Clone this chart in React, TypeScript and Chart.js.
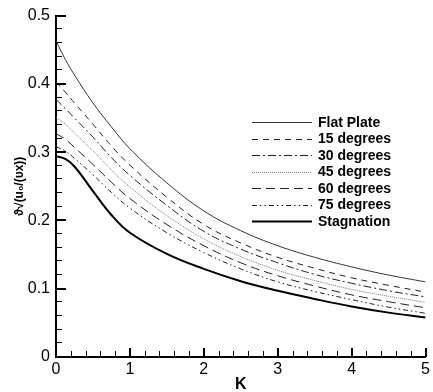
import React, { useEffect, useRef } from "react";
import { Chart, registerables } from "chart.js";

Chart.register(...registerables);

const kValues = [0, 0.125, 0.25, 0.5, 0.75, 1, 1.5, 2, 2.5, 3, 3.5, 4, 4.5, 5];
const flatPlate = [0.463, 0.436, 0.413, 0.372, 0.337, 0.305, 0.255, 0.214, 0.185, 0.163, 0.146, 0.132, 0.12, 0.11];
const deg15 = [0.403, 0.388, 0.372, 0.341, 0.309, 0.281, 0.234, 0.194, 0.167, 0.146, 0.13, 0.116, 0.105, 0.095];
const deg30 = [0.377, 0.364, 0.35, 0.322, 0.292, 0.266, 0.222, 0.184, 0.158, 0.138, 0.121, 0.108, 0.097, 0.088];
const deg45 = [0.351, 0.341, 0.328, 0.302, 0.274, 0.249, 0.207, 0.173, 0.147, 0.127, 0.112, 0.099, 0.089, 0.08];
const deg60 = [0.327, 0.319, 0.307, 0.282, 0.256, 0.232, 0.194, 0.163, 0.138, 0.119, 0.104, 0.091, 0.081, 0.072];
const deg75 = [0.308, 0.302, 0.291, 0.267, 0.241, 0.218, 0.182, 0.153, 0.129, 0.11, 0.096, 0.084, 0.073, 0.064];
const stagnation = [0.294, 0.29, 0.279, 0.243, 0.208, 0.182, 0.151, 0.129, 0.111, 0.097, 0.085, 0.074, 0.065, 0.058];

const seriesLabels = ["Flat Plate", "15 degrees", "30 degrees", "45 degrees", "60 degrees", "75 degrees", "Stagnation"];
const seriesValues = [flatPlate, deg15, deg30, deg45, deg60, deg75, stagnation];
const seriesStyles = [
  { color: "#333333", width: 1, dash: [] as number[] },
  { color: "#222222", width: 1, dash: [6, 5] },
  { color: "#222222", width: 1, dash: [8, 3, 2, 3] },
  { color: "#777777", width: 1, dash: [1, 1] },
  { color: "#222222", width: 1, dash: [9, 5] },
  { color: "#222222", width: 1, dash: [5, 3, 1.5, 3, 1.5, 3] },
  { color: "#000000", width: 2, dash: [] as number[] },
];

const yMinorStep = 0.02;
const xMinorStep = 0.2;

const xTitle = "K";
const yTitle = "ϑ√(u₀/(υx))";
const FONT = "'Liberation Sans', Arial, sans-serif";

function drawInsideTicks(chart: any) {
  const ctx = chart.ctx;
  const xs = chart.scales.x;
  const ys = chart.scales.y;
  const area = chart.chartArea;
  ctx.save();
  ctx.setLineDash([]);
  ctx.fillStyle = "#000000";
  for (let i = 0; i <= 25; i++) {
    const major = i % 5 === 0;
    const py = Math.round(ys.getPixelForValue(i * yMinorStep));
    if (major) ctx.fillRect(area.left, py - 1, 10, 2);
    else ctx.fillRect(area.left, py - 1, 6, 1);
  }
  for (let i = 0; i <= 25; i++) {
    const major = i % 5 === 0;
    const px = Math.round(xs.getPixelForValue(i * xMinorStep));
    if (major) ctx.fillRect(px - 1, area.bottom - 9, 2, 9);
    else ctx.fillRect(px, area.bottom - 6, 1, 6);
  }
  ctx.restore();
}

function drawLegend(chart: any) {
  const ctx = chart.ctx;
  ctx.save();
  chart.data.datasets.forEach((ds: any, i: number) => {
    const y = 122 + i * 16.5;
    ctx.strokeStyle = ds.borderColor;
    ctx.lineWidth = ds.borderWidth;
    ctx.setLineDash(ds.borderDash || []);
    ctx.beginPath();
    ctx.moveTo(252, Math.round(y) + 0.5);
    ctx.lineTo(312, Math.round(y) + 0.5);
    ctx.stroke();
    ctx.setLineDash([]);
    ctx.fillStyle = "#000";
    ctx.font = `bold 14px ${FONT}`;
    ctx.textBaseline = "middle";
    ctx.textAlign = "left";
    ctx.fillText(ds.label, 318, y + 1);
  });
  ctx.restore();
}

const overlay = {
  id: "overlayTicksLegend",
  afterDraw(chart: any) {
    drawLegend(chart);
    try {
      drawInsideTicks(chart);
    } catch (e: any) {
      const ctx = chart.ctx;
      ctx.save();
      ctx.fillStyle = "red";
      ctx.font = "10px sans-serif";
      ctx.fillText(String(e && e.message), 80, 60);
      ctx.restore();
    }
  },
};

export default function App() {
  const ref = useRef<HTMLCanvasElement | null>(null);
  useEffect(() => {
    if (!ref.current) return;
    const chart = new Chart(ref.current, {
      type: "line",
      data: {
        datasets: seriesLabels.map((label, i) => ({
          label,
          data: kValues.map((k, j) => ({ x: k, y: seriesValues[i][j] })),
          borderColor: seriesStyles[i].color,
          borderWidth: seriesStyles[i].width,
          borderDash: seriesStyles[i].dash,
          pointRadius: 0,
          fill: false,
          tension: 0.4,
        })),
      },
      options: {
        animation: false,
        responsive: false,
        devicePixelRatio: 1,
        layout: { padding: { top: 15, right: 4, left: 0, bottom: 0 } },
        plugins: { legend: { display: false }, tooltip: { enabled: false } },
        scales: {
          x: {
            type: "linear",
            min: 0,
            max: 5,
            afterFit: (s: any) => {
              s.height = 35;
            },
            ticks: {
              stepSize: 1,
              color: "#000",
              font: { family: FONT, size: 16 },
              padding: 3,
              maxRotation: 0,
              callback: (v: any) => String(v),
            },
            grid: { display: false, drawTicks: false },
            border: { display: true, color: "#000", width: 2 },
            title: {
              display: true,
              text: xTitle,
              color: "#000",
              font: { family: FONT, size: 16, weight: "bold", lineHeight: 0.8 },
              padding: { top: 0, bottom: 1 },
            },
          },
          y: {
            type: "linear",
            min: 0,
            max: 0.5,
            afterFit: (s: any) => {
              s.width = 56;
            },
            ticks: {
              stepSize: 0.1,
              color: "#000",
              font: { family: FONT, size: 16 },
              padding: 6,
              callback: (v: any) => String(Math.round(v * 10) / 10),
            },
            grid: { display: false, drawTicks: false },
            border: { display: true, color: "#000", width: 2 },
            title: {
              display: true,
              text: yTitle,
              color: "#000",
              font: { family: FONT, size: 12, weight: "bold", lineHeight: 1.2 },
              padding: { top: 12, bottom: 0 },
            },
          },
        },
      },
      plugins: [overlay],
    });
    return () => chart.destroy();
  }, []);
  return (
    <canvas
      ref={ref}
      width={433}
      height={392}
      style={{ position: "absolute", left: 0, top: 0, width: 433, height: 392, background: "#fff" }}
    />
  );
}
